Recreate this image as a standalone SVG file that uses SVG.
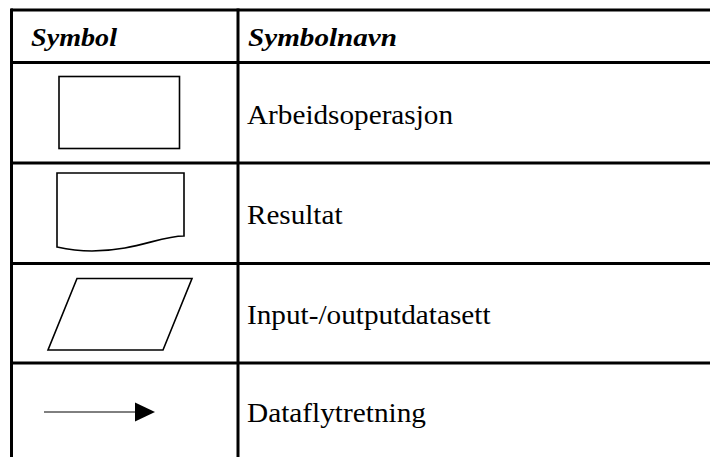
<svg xmlns="http://www.w3.org/2000/svg" width="710" height="457" viewBox="0 0 710 457">
  <style>
    .grid { stroke: #000; stroke-width: 3; fill: none; }
    .sym { stroke: #000; stroke-width: 1.6; fill: #fff; stroke-linejoin: miter; }
    .head { font-family: "Liberation Serif", "Times New Roman", serif; font-weight: bold; font-style: italic; font-size: 26px; fill: #000; }
    .label { font-family: "Liberation Serif", "Times New Roman", serif; font-size: 27px; fill: #000; }
  </style>
  <defs>
    <marker id="arrowhead" markerWidth="20" markerHeight="20" refX="0" refY="10" orient="auto" markerUnits="userSpaceOnUse">
      <path d="M0,0.5 L20,10 L0,19.5 Z" fill="#000"/>
    </marker>
  </defs>
  <rect width="710" height="457" fill="#fff"/>

  <!-- table rules -->
  <g id="table">
    <line class="grid" x1="11" y1="10" x2="710" y2="10"/>
    <line class="grid" x1="11" y1="62.5" x2="710" y2="62.5"/>
    <line class="grid" x1="11" y1="163" x2="710" y2="163"/>
    <line class="grid" x1="11" y1="263.5" x2="710" y2="263.5"/>
    <line class="grid" x1="11" y1="363" x2="710" y2="363"/>
    <line class="grid" x1="11.5" y1="8.5" x2="11.5" y2="457"/>
    <line class="grid" x1="238" y1="8.5" x2="238" y2="457"/>
  </g>

  <!-- column headings -->
  <g id="header">
    <text class="head" x="31" y="46" textLength="86" lengthAdjust="spacingAndGlyphs">Symbol</text>
    <text class="head" x="248" y="46" textLength="149" lengthAdjust="spacingAndGlyphs">Symbolnavn</text>
  </g>

  <!-- process -->
  <g id="process">
    <rect class="sym" x="59" y="76.5" width="120.5" height="72"/>
    <text class="label" x="247" y="124.3" textLength="206" lengthAdjust="spacingAndGlyphs">Arbeidsoperasjon</text>
  </g>

  <!-- document -->
  <g id="document">
    <path class="sym" d="M57,173 H184 V236 C160,236 135,251 92,251 C78,251 66,249 57,247 Z"/>
    <text class="label" x="247" y="223.5" textLength="95.5" lengthAdjust="spacingAndGlyphs">Resultat</text>
  </g>

  <!-- data (parallelogram) -->
  <g id="data">
    <path class="sym" d="M77,278.5 H192 L163,350 H48 Z"/>
    <text class="label" x="247" y="323.5" textLength="243.5" lengthAdjust="spacingAndGlyphs">Input-/outputdatasett</text>
  </g>

  <!-- flow direction -->
  <g id="connectors">
    <line x1="44" y1="412" x2="135" y2="412" stroke="#000" stroke-width="1" marker-end="url(#arrowhead)"/>
  </g>
  <g id="flow">
    <text class="label" x="247" y="422" textLength="179" lengthAdjust="spacingAndGlyphs">Dataflytretning</text>
  </g>
</svg>
